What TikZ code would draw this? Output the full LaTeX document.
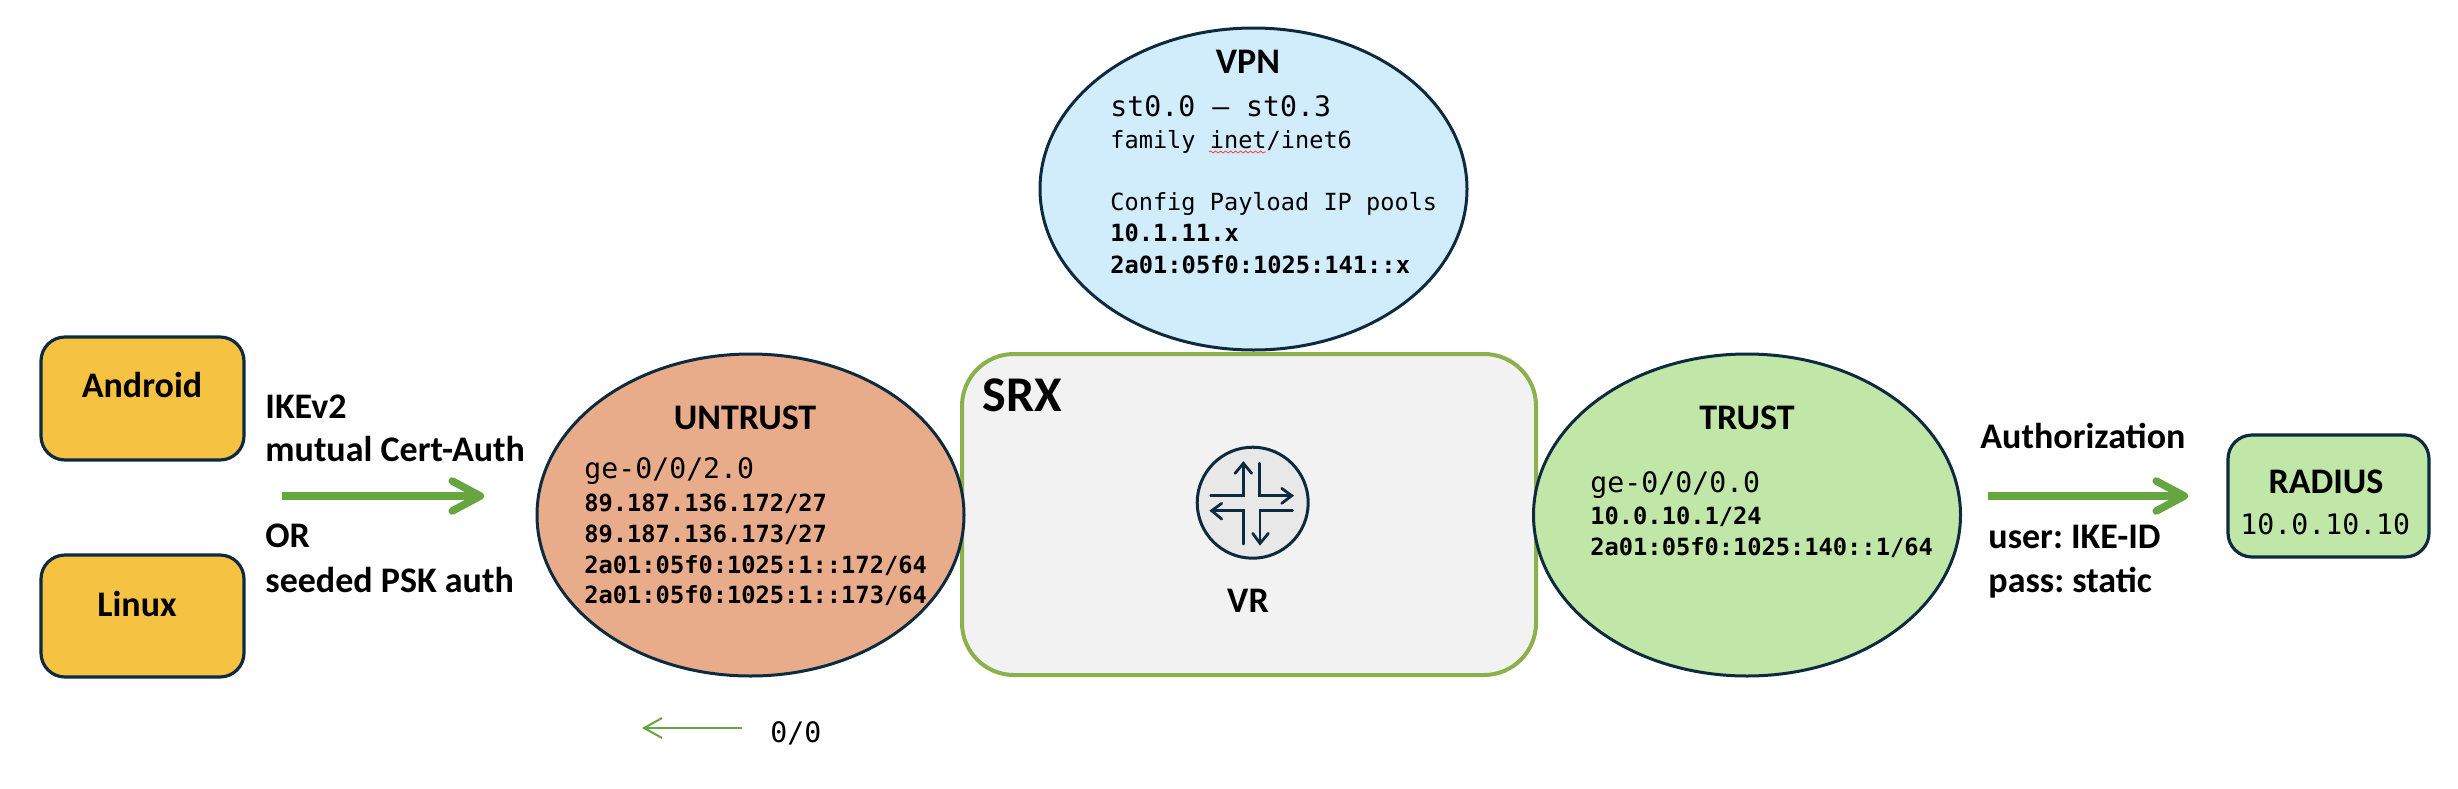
\documentclass[tikz,border=0pt]{standalone}
\usepackage{fontspec}
\setmainfont{Carlito}
\newfontfamily\monof{DejaVu Sans Mono}
\usetikzlibrary{arrows.meta,decorations.pathmorphing,shapes.geometric}
\definecolor{ink}{HTML}{0E2A3F}
\definecolor{grn}{HTML}{66A640}
\definecolor{srxg}{HTML}{8CB04C}
\definecolor{amber}{RGB}{245,194,66}
\definecolor{peach}{RGB}{232,172,138}
\definecolor{mint}{RGB}{192,230,168}
\definecolor{sky}{RGB}{209,236,250}
\definecolor{pale}{RGB}{242,242,242}
\tikzset{
 lab/.style={inner sep=0pt,anchor=base west,font=\frenchspacing\fontsize{18}{18}\selectfont\bfseries,text=black},
 labc/.style={inner sep=0pt,anchor=base,font=\fontsize{18}{18}\selectfont\bfseries,text=black},
 big/.style={inner sep=0pt,anchor=base west,font=\monof\fontsize{14.1}{14}\selectfont,text=black},
 small/.style={inner sep=0pt,anchor=base west,font=\monof\fontsize{11.8}{12}\selectfont,text=black},
 smallb/.style={inner sep=0pt,anchor=base west,font=\monof\fontsize{11.85}{12}\selectfont\bfseries,text=black},
 blob/.style={ellipse,draw=ink,line width=1.5pt,inner sep=0pt,minimum width=213.5pt,minimum height=161pt},
 box/.style={rectangle,rounded corners=12pt,draw=ink,line width=1.6pt,inner sep=0pt},
 bigarrow/.style={draw=grn,line width=4.2pt,-{Straight Barb[length=14pt,width=15pt,line width=3.8pt,round]}},
 ico/.style={draw=ink,line width=1.4pt,line cap=round},
}
\begin{document}
\begin{tikzpicture}[x=0.5pt,y=-0.5pt]
\useasboundingbox (0,0) rectangle (2458,788);
% clients
\node[box,fill=amber,minimum width=101.5pt,minimum height=61.5pt] (android) at (142.5,398.5) {};
\node[box,fill=amber,minimum width=101.5pt,minimum height=61pt] (linux) at (142.5,616) {};
\node[labc] (androidt) at (142,397) {Android};
\node[labc] (linuxt) at (137,616) {Linux};
\node[lab] (ike) at (265,418) {IKEv2};
\node[lab] (mut) at (265,461) {mutual Cert-Auth};
\node[lab] (or) at (265,547) {OR};
\node[lab] (seed) at (265,592) {seeded PSK auth};
\coordinate (a1s) at (282,496);
\coordinate (a1e) at (484,496);
\draw[bigarrow] (a1s) -- (a1e);
% SRX
\node[rectangle,rounded corners=26pt,draw=srxg,fill=pale,line width=2pt,minimum width=287pt,minimum height=160.5pt] (srx) at (1249,514.5) {};
\node[inner sep=0pt,anchor=base west,font=\fontsize{25}{25}\selectfont\bfseries] (srxt) at (982,411) {SRX};
% ellipses
\node[blob,fill=peach] (untrust) at (750.5,515) {};
\node[blob,fill=mint] (trust) at (1747,515) {};
\node[blob,fill=sky] (vpn) at (1253.5,189) {};
% untrust text
\node[labc] (ut) at (745,429) {UNTRUST};
\node[big] (u0) at (584,478) {ge-0/0/2.0};
\node[smallb] (u1) at (584,511) {89.187.136.172/27};
\node[smallb] (u2) at (584,542) {89.187.136.173/27};
\node[smallb] (u3) at (584,573) {2a01:05f0:1025:1::172/64};
\node[smallb] (u4) at (584,603) {2a01:05f0:1025:1::173/64};
% trust text
\node[labc] (tt) at (1747,429) {TRUST};
\node[big] (t0) at (1590,492) {ge-0/0/0.0};
\node[smallb] (t1) at (1590,524) {10.0.10.1/24};
\node[smallb] (t2) at (1590,555) {2a01:05f0:1025:140::1/64};
% vpn text
\node[labc] (vt) at (1248,73) {VPN};
\node[big] (v0) at (1110,116) {st0.0 – st0.3};
\node[small] (v1) at (1110,148) {family inet/inet6};
\node[small] (v2) at (1110,210) {Config Payload IP pools};
\node[smallb] (v3) at (1110,241) {10.1.11.x};
\node[smallb] (v4) at (1110,273) {2a01:05f0:1025:141::x};
\coordinate (w1) at (1209,152);
\coordinate (w2) at (1266,152);
\draw[red!75!white,line width=0.4pt,decorate,decoration={snake,amplitude=0.5pt,segment length=2.5pt}] (w1) -- (w2);
% default route
\coordinate (d1) at (742,728);
\coordinate (d2) at (642,728);
\draw[draw=grn,line width=1pt,-{Straight Barb[length=9pt,width=10pt]}] (d1) -- (d2);
\node[big] (dz) at (770,742) {0/0};
% router icon
\node[circle,draw=ink,fill={rgb,255:red,232;green,232;blue,232},line width=1.5pt,minimum size=55.5pt,inner sep=0pt] (vr) at (1252.7,502.7) {};
\begin{scope}[shift={(1150,420)},x=0.1667pt,y=-0.1667pt]
\draw[ico] (182,227) -- (280,227) -- (280,130);
\draw[ico] (255,160) -- (280,130) -- (305,160);
\draw[ico] (328,130) -- (328,227) -- (425,227);
\draw[ico] (395,205) -- (425,227) -- (395,250);
\draw[ico] (428,272) -- (330,272) -- (330,370);
\draw[ico] (308,340) -- (330,370) -- (355,340);
\draw[ico] (280,372) -- (280,272) -- (185,272);
\draw[ico] (215,250) -- (185,272) -- (215,297);
\end{scope}
\node[labc] (vrt) at (1248,612) {VR};
% radius
\node[lab] (auth) at (1980,448) {Authorization};
\node[lab] (user) at (1988,548) {user: IKE-ID};
\node[lab] (pass) at (1988,592) {pass: static};
\coordinate (a2s) at (1988,496);
\coordinate (a2e) at (2188,496);
\draw[bigarrow] (a2s) -- (a2e);
\node[box,fill=mint,minimum width=100.5pt,minimum height=61pt] (radius) at (2328.5,496) {};
\node[labc] (rt) at (2326,493) {RADIUS};
\node[inner sep=0pt,anchor=base west,font=\monof\fontsize{14.1}{14}\selectfont] (rip) at (2240,534) {10.0.10.10};
\end{tikzpicture}
\end{document}
